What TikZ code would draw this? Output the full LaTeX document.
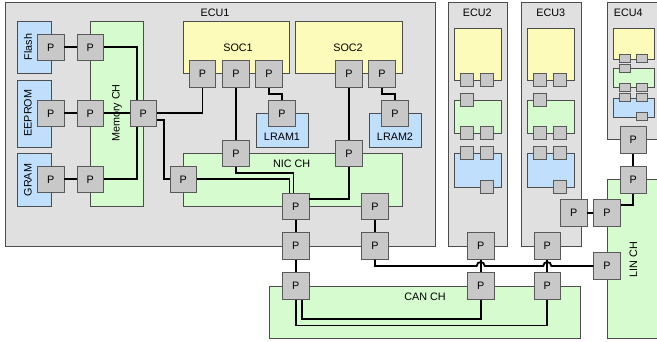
\documentclass[tikz,border=0pt]{standalone}
\usepackage{fontspec}
\setmainfont{Liberation Sans}
\definecolor{ecugray}{HTML}{E0E0E0}
\definecolor{chgreen}{HTML}{D6FBCF}
\definecolor{socyellow}{HTML}{FDFBBA}
\definecolor{memblue}{HTML}{C0DFFD}
\definecolor{portgray}{HTML}{C8C8C8}
\begin{document}
\begin{tikzpicture}[x=1pt, y=-1pt, font=\fontsize{10.8}{12}\selectfont,
          box/.style={draw=black!70, line width=0.8pt, anchor=north west, inner sep=0pt},
          ecu/.style={box, fill=ecugray},
          chan/.style={box, fill=chgreen},
          soc/.style={box, fill=socyellow},
          mem/.style={box, fill=memblue},
          port/.style={draw=black!65, line width=0.8pt, fill=portgray, minimum size=26.7pt, inner sep=0pt},
          dot/.style={port, minimum size=13pt},
          minidot/.style={port, minimum width=11.3pt, minimum height=8.3pt},
          wire/.style={line width=1.8pt, black}]
        \useasboundingbox (0,0) rectangle (657,341);
        % ECU frames and buses
        \node[ecu, minimum width=430pt, minimum height=244pt] (ecu1) at (5,1.5) {};
        \node[ecu, minimum width=59.6pt, minimum height=244.5pt] (ecu2) at (447.7,1.5) {};
        \node[ecu, minimum width=60pt, minimum height=244.5pt] (ecu3) at (520.7,1.5) {};
        \node[ecu, minimum width=60pt, minimum height=137.8pt] (ecu4) at (606.7,1.5) {};
        \node[chan, minimum width=311pt, minimum height=52.3pt] (canch) at (269,286) {};
        \node[chan, minimum width=60pt, minimum height=158.7pt] (linch) at (606.7,179.3) {};
        \node (ecu1lbl) at (215,12.5) {ECU1};
        \node (ecu2lbl) at (477.3,13) {ECU2};
        \node (ecu3lbl) at (550.7,13) {ECU3};
        \node (ecu4lbl) at (628.3,13) {ECU4};
        \node (canlbl) at (425,297) {CAN CH};
        \node[rotate=90] (linlbl) at (633.3,259.5) {LIN CH};
        % ECU1 inside
        \node[mem, minimum width=33.4pt, minimum height=52.3pt] (flash) at (17.3,21) {};
        \node[mem, minimum width=33.4pt, minimum height=66.7pt] (eeprom) at (17.3,80) {};
        \node[mem, minimum width=33.4pt, minimum height=52.7pt] (gram) at (17.3,153.3) {};
        \node[chan, minimum width=53pt, minimum height=185pt] (memch) at (90.3,21) {};
        \node[soc, minimum width=106.3pt, minimum height=52.3pt] (soc1) at (182.7,21) {};
        \node[soc, minimum width=106.4pt, minimum height=52.3pt] (soc2) at (295.3,21) {};
        \node[mem, minimum width=52.6pt, minimum height=33.4pt] (lram1) at (255.7,113.3) {};
        \node[mem, minimum width=52.3pt, minimum height=33.4pt] (lram2) at (368.7,113.3) {};
        \node[chan, minimum width=219pt, minimum height=52.7pt] (nicch) at (182.7,153.3) {};
        \node[rotate=90] (flashlbl) at (28,47) {Flash};
        \node[rotate=90] (eepromlbl) at (28,113) {EEPROM};
        \node[rotate=90] (gramlbl) at (28,180) {GRAM};
        \node[rotate=90] (memlbl) at (117,113) {Memory CH};
        \node (soc1lbl) at (238,47.7) {SOC1};
        \node (soc2lbl) at (348,47.7) {SOC2};
        \node (lram1lbl) at (282,137) {LRAM1};
        \node (lram2lbl) at (395,137) {LRAM2};
        \node (niclbl) at (291.7,163.5) {NIC CH};
        % ECU2 and ECU3 are drawn small, without their ports named
        \foreach \k/\dx in {2/0,3/73} {
          \node[soc, minimum width=46.4pt, minimum height=52.3pt] (y\k) at ({454.3+\dx},27.7) {};
          \node[chan, minimum width=46.4pt, minimum height=33.3pt] (g\k) at ({454.3+\dx},100) {};
          \node[mem, minimum width=46.4pt, minimum height=33.4pt] (b\k) at ({454.3+\dx},153.3) {};
          \foreach \px/\py in {467.3/80,487.3/80,467.3/100,467.3/133.3,487.3/133.3,467.3/153.3,487.3/153.3,487.3/186.7}
            \node[dot] at ({\px+\dx},\py) {};
        }
        \node[soc, minimum width=40.7pt, minimum height=30.8pt] (y4) at (613.3,27.7) {};
        \node[chan, minimum width=40.7pt, minimum height=19pt] (g4) at (613.3,68.3) {};
        \node[mem, minimum width=40.7pt, minimum height=19pt] (b4) at (613.3,97.7) {};
        \foreach \px/\py in {625/58.5,641.7/58.5,625/68.3,625/87.3,641.7/87.3,625/97.7,641.7/97.7,641.7/116.7}
          \node[minidot] at (\px,\py) {};
        % ports
        \node[port] (m1a) at (50.7,47.3) {P};
        \node[port] (m1b) at (90.3,47.3) {P};
        \node[port] (m2a) at (50.7,113.3) {P};
        \node[port] (m2b) at (90.3,113.3) {P};
        \node[port] (mhub) at (143.3,113.3) {P};
        \node[port] (m3a) at (50.7,179.3) {P};
        \node[port] (m3b) at (90.3,179.3) {P};
        \node[port] (s1a) at (202.5,74) {P};
        \node[port] (s1b) at (236,74) {P};
        \node[port] (s1c) at (269,74) {P};
        \node[port] (s2a) at (349,74) {P};
        \node[port] (s2b) at (382,74) {P};
        \node[port] (lr1) at (282,113.3) {P};
        \node[port] (lr2) at (395,113.3) {P};
        \node[port] (n1) at (236,153.3) {P};
        \node[port] (n2) at (349,153.3) {P};
        \node[port] (nl) at (183.3,179.3) {P};
        \node[port] (h1) at (295.7,206.5) {P};
        \node[port] (h2) at (375,206.5) {P};
        \node[port] (gw1) at (295.7,245.8) {P};
        \node[port] (gw2) at (375,245.8) {P};
        \node[port] (c1) at (295.7,285.8) {P};
        \node[port] (c2) at (480.7,286) {P};
        \node[port] (c3) at (547.3,286) {P};
        \node[port] (e2) at (480.7,246) {P};
        \node[port] (e3) at (547.3,246) {P};
        \node[port] (e4) at (633.3,140) {P};
        \node[port] (l1) at (633.3,180) {P};
        \node[port] (l2) at (607,212.7) {P};
        \node[port] (l3) at (573.7,212.7) {P};
        \node[port] (lp) at (607,266) {P};
        % wires
        \draw[wire] (m1a) -- (m1b);
        \draw[wire] (m2a) -- (m2b);
        \draw[wire] (m3a) -- (m3b);
        \draw[wire] (m2b) -- (mhub);
        \draw[wire] (m1b.east) -| ([xshift=-6.6pt]mhub.north);
        \draw[wire] (m3b.east) -| ([xshift=-6.6pt]mhub.south);
        \draw[wire] (mhub.east) -| (s1a.south);
        \draw[wire] ([yshift=-6.7pt]mhub.east) -- ++(6.6pt,0) |- (nl.west);
        \draw[wire] (s1c.south) -- ++(0,6) -| (lr1.north);
        \draw[wire] (s2b.south) -- ++(0,6) -| (lr2.north);
        \draw[wire] (s1b) -- (n1);
        \draw[wire] (s2a) -- (n2);
        \draw[wire] (n1.south) -- ++(0,6) -| ([xshift=-2.2pt]h1.north);
        \draw[wire] (nl.east) -| ([xshift=-6.2pt]h1.north);
        \draw[wire] (n2.south) |- ([yshift=7.2pt]h1.east);
        \draw[wire] (h1) -- (gw1);
        \draw[wire] (gw1) -- (c1);
        \draw[wire] (h2) -- (gw2);
        \draw[wire] (e2) -- (c2);
        \draw[wire] (e3) -- (c3);
        \draw[wire] (c1.south) -- ++(0,26) -| (c3.south);
        \draw[wire] ([xshift=6.6pt]c1.south) -- ++(0,19.3) -| (c2.south);
        % the LIN line hops over the two CAN drops
        \coordinate (hop2) at (e2.south |- lp.west);
        \coordinate (hop3) at (e3.south |- lp.west);
        \draw[wire] (gw2.south) |- ([xshift=-4pt]hop2)
          .. controls ([xshift=-4pt,yshift=5.3pt]hop2) and ([xshift=4pt,yshift=5.3pt]hop2) .. ([xshift=4pt]hop2)
          -- ([xshift=-4pt]hop3)
          .. controls ([xshift=-4pt,yshift=5.3pt]hop3) and ([xshift=4pt,yshift=5.3pt]hop3) .. ([xshift=4pt]hop3)
          -- (lp.west);
        \draw[wire] (e4) -- (l1);
        \draw[wire] (l1.south) |- ([yshift=7.7pt]l2.east);
        \draw[wire] (l2) -- (l3);
      \end{tikzpicture}
\end{document}
